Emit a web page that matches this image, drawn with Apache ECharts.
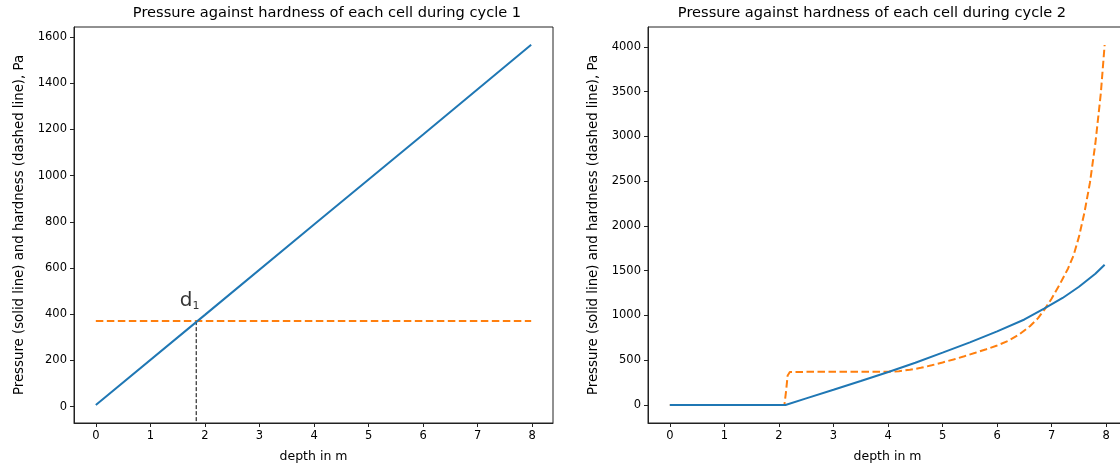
<!DOCTYPE html>
<html>
<head>
<meta charset="utf-8">
<script src="https://cdn.jsdelivr.net/npm/echarts@6/dist/echarts.min.js"></script>
<style>
  html, body { margin: 0; padding: 0; background: #fff; }
  #main { width: 1120px; height: 468px; }
</style>
</head>
<body>
<div id="main"></div>
<script>
// cycle 1: pressure (solid) and hardness (dashed)
var depth1 = [0, 2, 4, 6, 7.98];
var pressure1 = [7, 397, 788, 1178, 1566];
var hardnessDepth1 = [0, 7.98];
var hardness1 = [370, 370];
var d1Depth = 1.84;
var d1Hardness = 370;

// cycle 2
var depth2P = [0, 2.12, 2.5, 3, 3.5, 4.02, 4.5, 5, 5.5, 6, 6.5, 6.86, 7.2, 7.5, 7.8, 7.97];
var pressure2 = [0, 0, 74, 170, 268, 372, 472, 585, 700, 822, 955, 1075, 1195, 1320, 1465, 1567];
var depth2H = [0, 2.1, 2.13, 2.16, 2.2, 2.5, 3, 3.5, 4, 4.2, 4.4, 4.6, 4.8, 5.0, 5.2, 5.4, 5.6, 5.8, 6.0, 6.2, 6.4, 6.6, 6.75, 6.87, 7.0, 7.15, 7.3, 7.4, 7.5, 7.6, 7.7, 7.8, 7.9, 7.97];
var hardness2 = [0, 0, 150, 330, 368, 370, 370, 370, 371, 378, 393, 415, 443, 475, 508, 545, 583, 622, 665, 715, 785, 880, 970, 1068, 1190, 1350, 1525, 1670, 1880, 2150, 2480, 2920, 3480, 4020];

// ticks
var xTicks = [0, 1, 2, 3, 4, 5, 6, 7, 8];
var yTicks1 = [0, 200, 400, 600, 800, 1000, 1200, 1400, 1600];
var yTicks2 = [0, 500, 1000, 1500, 2000, 2500, 3000, 3500, 4000];

var titles = [
  "Pressure against hardness of each cell during cycle 1",
  "Pressure against hardness of each cell during cycle 2"
];
var yName = "Pressure (solid line) and hardness (dashed line), Pa";
var xName = "depth in m";

function zip(a, b) {
  return a.map(function (v, i) { return [v, b[i]]; });
}

var FONT = "DejaVu Sans";
var BLUE = "#1f77b4", ORANGE = "#ff7f0e";
var plain = function (v) { return String(v); };

function xAxisFor(idx) {
  return {
    type: "value", gridIndex: idx, min: -0.4, max: 8.38,
    name: xName, nameLocation: "middle", nameGap: 27,
    nameTextStyle: { fontFamily: FONT, fontSize: 12.5, color: "#000" },
    axisLine: { show: true, onZero: false, lineStyle: { color: "#222", width: 1 } },
    axisTick: { show: true, length: 4, customValues: xTicks, lineStyle: { color: "#222" } },
    axisLabel: { customValues: xTicks, formatter: plain, margin: 7, fontFamily: FONT, fontSize: 11.5, color: "#000" },
    splitLine: { show: false }
  };
}
function yAxisFor(idx, min, max, ticks) {
  return {
    type: "value", gridIndex: idx, min: min, max: max,
    name: yName, nameLocation: "middle", nameGap: 48,
    nameTextStyle: { fontFamily: FONT, fontSize: 13.3, color: "#000" },
    axisLine: { show: true, onZero: false, lineStyle: { color: "#222", width: 1 } },
    axisTick: { show: true, length: 4, customValues: ticks, lineStyle: { color: "#222" } },
    axisLabel: { customValues: ticks, formatter: plain, margin: 7, fontFamily: FONT, fontSize: 11.5, color: "#000" },
    splitLine: { show: false }
  };
}

var chart = echarts.init(document.getElementById("main"));
var option = {
  animation: false,
  backgroundColor: "#fff",
  grid: [
    { left: 74, top: 27, width: 479, height: 396, show: true, borderColor: "#222", borderWidth: 1, containLabel: false, outerBoundsMode: "none" },
    { left: 648, top: 27, width: 479, height: 396, show: true, borderColor: "#222", borderWidth: 1, containLabel: false, outerBoundsMode: "none" }
  ],
  graphic: [
    { type: "text", x: 327, y: 13, style: { text: titles[0], font: "14.6px DejaVu Sans", fill: "#000", textAlign: "center", textVerticalAlign: "middle" } },
    { type: "text", x: 872, y: 13, style: { text: titles[1], font: "14.6px DejaVu Sans", fill: "#000", textAlign: "center", textVerticalAlign: "middle" } }
  ],
  xAxis: [xAxisFor(0), xAxisFor(1)],
  yAxis: [yAxisFor(0, -71, 1643, yTicks1), yAxisFor(1, -201, 4221, yTicks2)],
  series: [
    {
      type: "line", xAxisIndex: 0, yAxisIndex: 0, data: zip(depth1, pressure1),
      showSymbol: false, lineStyle: { color: BLUE, width: 2 }, z: 3
    },
    {
      type: "line", xAxisIndex: 0, yAxisIndex: 0, data: zip(hardnessDepth1, hardness1),
      showSymbol: false, lineStyle: { color: ORANGE, width: 2, type: [7.5, 3.5] }, z: 2
    },
    {
      type: "line", xAxisIndex: 0, yAxisIndex: 0, data: [[d1Depth, d1Hardness], [d1Depth, -71]],
      showSymbol: false, lineStyle: { color: "#000", width: 1, type: [4, 2] }, z: 1
    },
    {
      type: "scatter", xAxisIndex: 0, yAxisIndex: 0, data: [[1.72, 413]],
      symbolSize: 0, silent: true,
      label: {
        show: true, position: "top", distance: 0,
        formatter: "{a|d}{b|1}",
        rich: {
          a: { fontFamily: FONT, fontSize: 20, lineHeight: 22, color: "#000", verticalAlign: "bottom" },
          b: { fontFamily: FONT, fontSize: 11, lineHeight: 22, color: "#000", verticalAlign: "bottom", padding: [9, 0, 0, 0] }
        }
      }
    },
    {
      type: "line", xAxisIndex: 1, yAxisIndex: 1, data: zip(depth2P, pressure2),
      showSymbol: false, lineStyle: { color: BLUE, width: 2 }, z: 3
    },
    {
      type: "line", xAxisIndex: 1, yAxisIndex: 1, data: zip(depth2H, hardness2),
      showSymbol: false, lineStyle: { color: ORANGE, width: 2, type: [7.5, 3.5] }, z: 2
    }
  ]
};
chart.setOption(option);
</script>
</body>
</html>
